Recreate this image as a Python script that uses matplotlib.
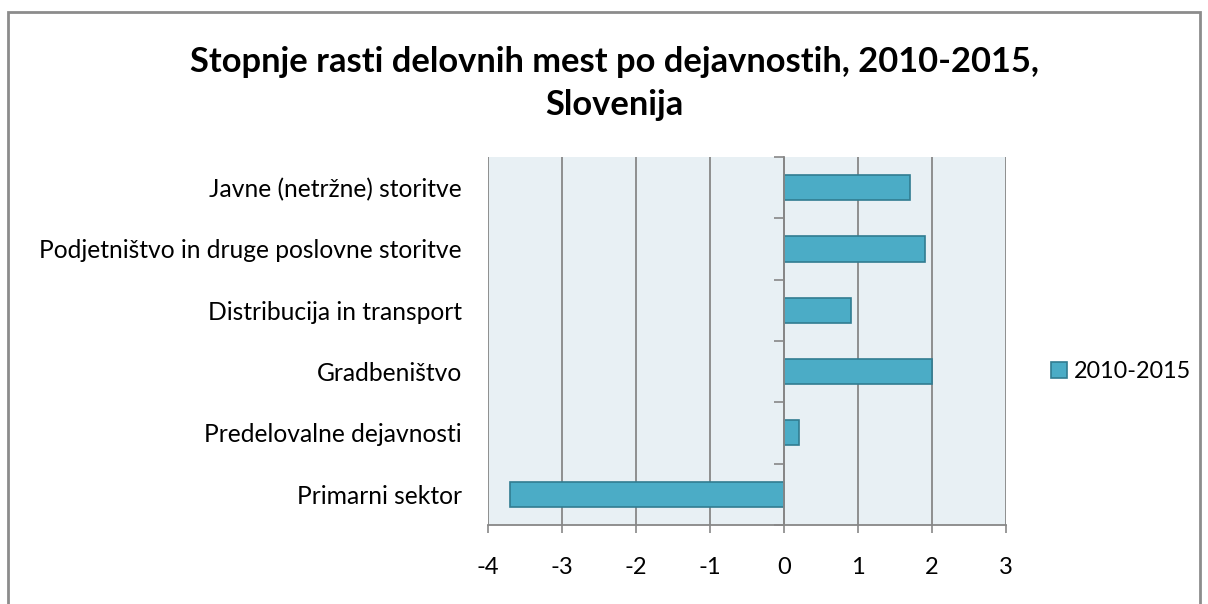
import matplotlib.pyplot as plt
from matplotlib.patches import Rectangle

plt.rcParams['font.family'] = ['Lato', 'DejaVu Sans']

categories = ["Primarni sektor", "Predelovalne dejavnosti", "Gradbeništvo",
              "Distribucija in transport", "Podjetništvo in druge poslovne storitve",
              "Javne (netržne) storitve"]
values = [-3.7, 0.2, 2.0, 0.9, 1.9, 1.7]
series_name = "2010-2015"
xticks = [-4, -3, -2, -1, 0, 1, 2, 3]

fig = plt.figure(figsize=(12.08, 6.04), dpi=100)
ax = fig.add_axes([0.404, 0.131, 0.4288, 0.609])
ax.set_facecolor('#E8F0F4')

pos = list(range(len(categories)))
ax.barh(pos, values, height=0.41, color='#4BACC6', edgecolor='#317C91', linewidth=1.2,
        label=series_name, zorder=3)

ax.set_xlim(-4, 3)
ax.set_ylim(-0.5, len(categories) - 0.5)
ax.set_xticks(xticks)
ax.set_xticklabels([str(v) for v in xticks])
ax.set_yticks(pos)
ax.set_yticklabels(categories)
ax.tick_params(axis='y', length=0, pad=19, labelsize=17.7)
ax.tick_params(axis='x', length=6, width=1.2, color='#878787', pad=17, labelsize=17)
ax.grid(axis='x', color='#878787', linewidth=1.3, zorder=1)
for s in ['top', 'left', 'right']:
    ax.spines[s].set_visible(False)
ax.spines['bottom'].set_color('#878787')
ax.spines['bottom'].set_linewidth(1.3)

# vertical category axis drawn at x = 0
ax2 = ax.twinx()
ax2.set_ylim(ax.get_ylim())
for s in ['top', 'left', 'bottom']:
    ax2.spines[s].set_visible(False)
ax2.spines['right'].set_position(('data', 0))
ax2.spines['right'].set_color('#878787')
ax2.spines['right'].set_linewidth(1.3)
ax2.set_yticks([p - 0.5 for p in pos] + [len(categories) - 0.5])
ax2.set_yticklabels([])
ax2.tick_params(axis='y', direction='in', length=7, width=1.2, color='#878787')

fig.suptitle("Stopnje rasti delovnih mest po dejavnostih, 2010-2015,\nSlovenija",
             x=0.509, y=0.862, va='center', fontsize=24.8, fontweight='bold',
             linespacing=1.45)

handles, labels = ax.get_legend_handles_labels()
fig.legend(handles, labels, loc='center left', bbox_to_anchor=(0.853, 0.385),
           frameon=False, fontsize=16.8, handlelength=0.65, handleheight=0.65,
           handletextpad=0.3)

fig.patches.append(Rectangle((0.007, -0.05), 0.986, 1.03, transform=fig.transFigure,
                             fill=False, edgecolor='#8C8C8C', linewidth=2))

fig.savefig('out.png', dpi=100)
